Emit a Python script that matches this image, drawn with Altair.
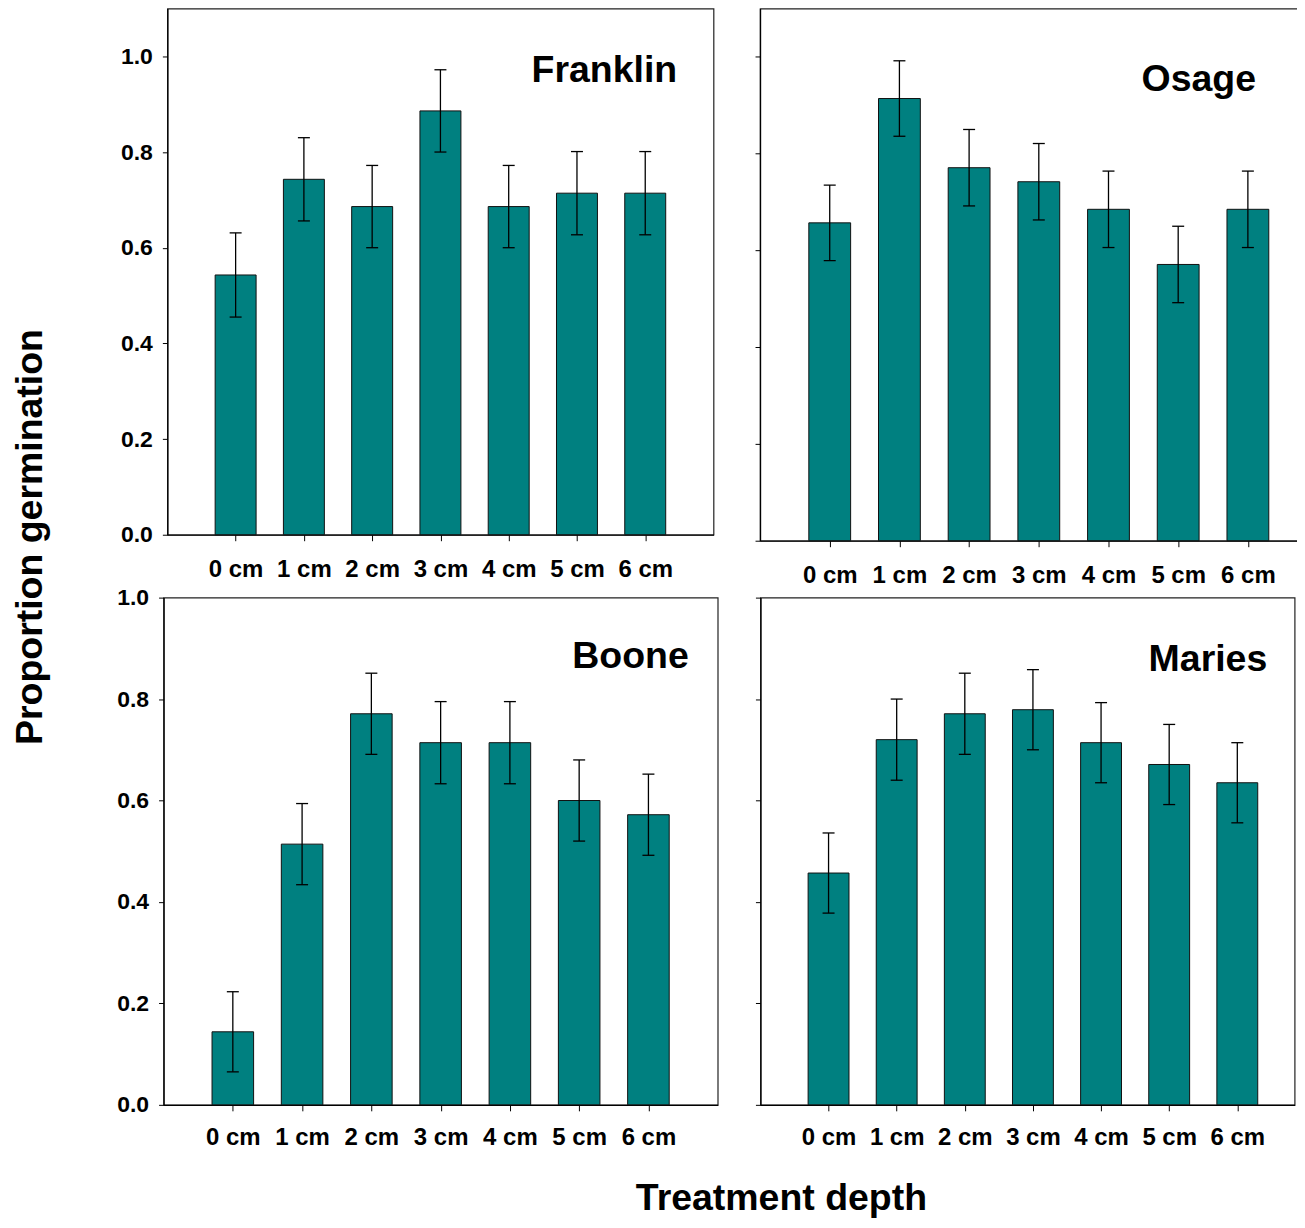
import altair as alt
import pandas as pd

# ---- data ----
depths = [0, 1, 2, 3, 4, 5, 6]
depth_labels = ["0 cm", "1 cm", "2 cm", "3 cm", "4 cm", "5 cm", "6 cm"]

franklin = [0.543, 0.743, 0.686, 0.886, 0.686, 0.714, 0.714]
franklin_se = [0.088, 0.087, 0.086, 0.086, 0.086, 0.087, 0.087]

osage = [0.657, 0.914, 0.771, 0.742, 0.685, 0.571, 0.685]
osage_se = [0.078, 0.078, 0.079, 0.079, 0.079, 0.079, 0.079]

boone = [0.144, 0.514, 0.771, 0.714, 0.714, 0.600, 0.572]
boone_se = [0.079, 0.080, 0.080, 0.081, 0.081, 0.080, 0.080]

maries = [0.457, 0.720, 0.771, 0.779, 0.714, 0.671, 0.635]
maries_se = [0.079, 0.080, 0.080, 0.079, 0.079, 0.079, 0.079]

y_ticks = [0.0, 0.2, 0.4, 0.6, 0.8, 1.0]

FONT = "Liberation Sans"
TEAL = "#008080"
label_expr = "[" + ",".join("'%s'" % s for s in depth_labels) + "][datum.value]"


def panel(name, vals, errs, width, height, ymax, xmax, show_ylabels,
          title_dx, title_offset, xlabel_pad):
    df = pd.DataFrame({"depth": depths, "p": vals, "se": errs})
    base = alt.Chart(df).transform_calculate(
        lo="datum.p - datum.se",
        hi="datum.p + datum.se",
        x0="datum.depth - 0.3",
        x1="datum.depth + 0.3",
    )
    xscale = alt.Scale(domain=[-1, xmax], nice=False, zero=False)
    yscale = alt.Scale(domain=[0, ymax], nice=False)
    xaxis = alt.Axis(values=depths, labelExpr=label_expr, title=None, grid=False,
                     labelFontSize=24, labelFont=FONT, labelFontWeight="bold",
                     labelColor="black", tickSize=6, labelPadding=xlabel_pad,
                     tickColor="black", domainColor="black", domainWidth=1.3,
                     labelFlush=False, labelOverlap=False)
    yaxis = alt.Axis(values=y_ticks, format=".1f", grid=False, title=None,
                     labels=show_ylabels, labelFontSize=23, labelFont=FONT,
                     labelFontWeight="bold", labelColor="black", tickSize=5,
                     labelPadding=10, tickColor="black", domainColor="black",
                     domainWidth=1.3, labelFlush=False, labelOverlap=False)
    bars = base.mark_bar(color=TEAL, stroke="#111111", strokeWidth=1).encode(
        x=alt.X("x0:Q", scale=xscale, axis=xaxis),
        x2="x1:Q",
        y=alt.Y("p:Q", scale=yscale, axis=yaxis),
        y2=alt.datum(0),
    )
    rules = base.mark_rule(color="black", strokeWidth=1.3).encode(
        x=alt.X("depth:Q", scale=xscale), y=alt.Y("lo:Q", scale=yscale), y2="hi:Q"
    )
    cap_hi = base.mark_tick(orient="horizontal", size=12, thickness=1.3,
                            color="black", opacity=1).encode(
        x=alt.X("depth:Q", scale=xscale), y=alt.Y("hi:Q", scale=yscale)
    )
    cap_lo = base.mark_tick(orient="horizontal", size=12, thickness=1.3,
                            color="black", opacity=1).encode(
        x=alt.X("depth:Q", scale=xscale), y=alt.Y("lo:Q", scale=yscale)
    )
    return alt.layer(bars, rules, cap_hi, cap_lo).properties(
        width=width,
        height=height,
        title=alt.TitleParams(name, orient="top", anchor="end", frame="group",
                              offset=title_offset, dx=title_dx, fontSize=37.5,
                              font=FONT, fontWeight="bold", color="black"),
    )


def spacer(width):
    # invisible, near-zero-size cell used only to shift a row horizontally
    return alt.Chart(pd.DataFrame({"v": [0]})).mark_point(size=1, opacity=0).encode(
        x=alt.X("v:Q", axis=None, scale=alt.Scale(domain=[-1, 1])),
        y=alt.Y("v:Q", axis=None, scale=alt.Scale(domain=[-1, 1])),
    ).properties(width=width, height=1, view=alt.ViewBackground(strokeOpacity=0))


p_franklin = panel("Franklin", franklin, franklin_se, 547, 527, 1.1, 7.0, True, -36.4, -80.7, 16.5)
p_osage = panel("Osage", osage, osage_se, 545, 533, 1.1, 6.808, False, -48.3, -89.9, 16.5)
p_boone = panel("Boone", boone, boone_se, 555, 508, 1.0, 7.0, True, -29, -88.5, 15)
p_maries = panel("Maries", maries, maries_se, 535, 508, 1.0, 6.841, False, -27.4, -81, 15)

row1 = alt.hconcat(spacer(5.5), p_franklin, p_osage, spacing=38.6)
row2 = alt.hconcat(spacer(5.2), p_boone, p_maries, spacing=34.8)

inner = alt.vconcat(
    row1, row2, spacing=-3.0,
    title=alt.TitleParams("Proportion germination", orient="left", anchor="middle",
                          fontSize=37.5, font=FONT, fontWeight="bold", color="black",
                          offset=25.0, dx=42.2),
)

chart = alt.vconcat(
    inner,
    title=alt.TitleParams("Treatment depth", orient="bottom", anchor="middle",
                          fontSize=37.5, font=FONT, fontWeight="bold", color="black",
                          offset=30, dx=123),
).properties(
    padding={"left": 4, "top": -1.4, "right": -8, "bottom": 1}
).configure_view(
    stroke="#222222", strokeWidth=1.2
).configure_concat(spacing=0)

chart.save("out.html", embed_options={"renderer": "svg", "actions": False})
